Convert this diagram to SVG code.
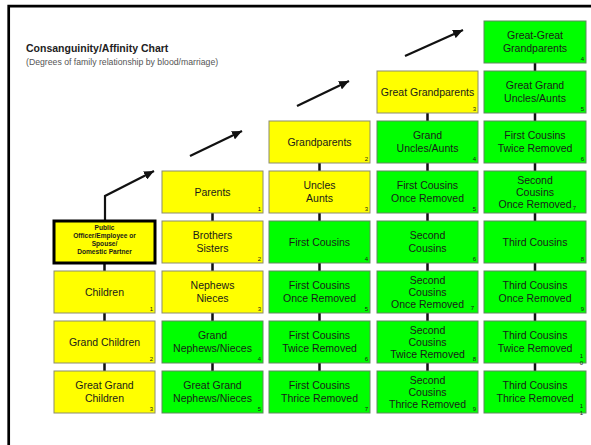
<svg xmlns="http://www.w3.org/2000/svg" width="591" height="445" viewBox="0 0 591 445">
<defs>
<marker id="ah" markerUnits="userSpaceOnUse" markerWidth="11" markerHeight="9" refX="10" refY="4.5" orient="auto">
<path d="M0,0 L10,4.5 L0,9 z" fill="#111"/>
</marker>
</defs>
<style>
.y{fill:#ffff00;stroke:#8c8c6e;stroke-width:1}
.g{fill:#00ff00;stroke:#5e8a5e;stroke-width:1}
.t{font-family:"Liberation Sans",Arial,sans-serif;font-size:10.5px;fill:#1a1a1a;text-anchor:middle}
.n{font-family:"Liberation Sans",Arial,sans-serif;font-size:6px;fill:#1a1a1a;text-anchor:end}
.c{stroke:#111;stroke-width:2.5;fill:none}
.a{stroke:#111;stroke-width:2.2;fill:none;marker-end:url(#ah)}
</style>
<rect width="591" height="445" fill="#fff"/>
<path d="M8.7,445 V6.2 H591" fill="none" stroke="#000" stroke-width="2.7"/>
<text x="26" y="52" font-family="'Liberation Sans',Arial,sans-serif" font-size="10.5" font-weight="bold" fill="#222">Consanguinity/Affinity Chart</text>
<text x="26" y="65" font-family="'Liberation Sans',Arial,sans-serif" font-size="8.7" fill="#555">(Degrees of family relationship by blood/marriage)</text>

<g id="connectors">
<path class="c" d="M104.5,263V271 M104.5,313V321 M104.5,363V371"/>
<path class="c" d="M212.5,213V221 M212.5,263V271 M212.5,313V321 M212.5,363V371"/>
<path class="c" d="M319.5,163V171 M319.5,213V221 M319.5,263V271 M319.5,313V321 M319.5,363V371"/>
<path class="c" d="M427.5,113V121 M427.5,163V171 M427.5,213V221 M427.5,263V271 M427.5,313V321 M427.5,363V371"/>
<path class="c" d="M535,63V71 M535,113V121 M535,163V171 M535,213V221 M535,263V271 M535,313V321 M535,363V371"/>
<polyline class="a" points="105,220 105,196 154,171"/>
<line class="a" x1="190" y1="156" x2="242" y2="131"/>
<line class="a" x1="297" y1="106" x2="349" y2="81"/>
<line class="a" x1="405" y1="56" x2="463" y2="30"/>
</g>

<!-- column 1 -->
<g id="self" transform="translate(54,221)">
<rect x="0" y="0" width="101" height="42" fill="#ffff00" stroke="#000" stroke-width="3"/>
<text class="t" font-size="6.6" font-weight="bold" style="font-size:6.6px;font-weight:bold"><tspan x="50.5" y="9.4">Public</tspan><tspan x="50.5" y="17.4">Officer/Employee or</tspan><tspan x="50.5" y="25.4">Spouse/</tspan><tspan x="50.5" y="33">Domestic Partner</tspan></text>
</g>
<g id="children" transform="translate(54,271)"><rect class="y" width="101" height="42"/><text class="t" x="50.5" y="24.7">Children</text><text class="n" x="99" y="40">1</text></g>
<g id="grandchildren" transform="translate(54,321)"><rect class="y" width="101" height="42"/><text class="t" x="50.5" y="24.7">Grand Children</text><text class="n" x="99" y="40">2</text></g>
<g id="greatgrandchildren" transform="translate(54,371)"><rect class="y" width="101" height="42"/><text class="t"><tspan x="50.5" y="18.2">Great Grand</tspan><tspan x="50.5" y="31.2">Children</tspan></text><text class="n" x="99" y="40">3</text></g>

<!-- column 2 -->
<g id="parents" transform="translate(162,171)"><rect class="y" width="101" height="42"/><text class="t" x="50.5" y="24.7">Parents</text><text class="n" x="99" y="40">1</text></g>
<g id="siblings" transform="translate(162,221)"><rect class="y" width="101" height="42"/><text class="t"><tspan x="50.5" y="18.2">Brothers</tspan><tspan x="50.5" y="31.2">Sisters</tspan></text><text class="n" x="99" y="40">2</text></g>
<g id="nephews" transform="translate(162,271)"><rect class="y" width="101" height="42"/><text class="t"><tspan x="50.5" y="18.2">Nephews</tspan><tspan x="50.5" y="31.2">Nieces</tspan></text><text class="n" x="99" y="40">3</text></g>
<g id="grandnephews" transform="translate(162,321)"><rect class="g" width="101" height="42"/><text class="t"><tspan x="50.5" y="18.2">Grand</tspan><tspan x="50.5" y="31.2">Nephews/Nieces</tspan></text><text class="n" x="99" y="40">4</text></g>
<g id="greatgrandnephews" transform="translate(162,371)"><rect class="g" width="101" height="42"/><text class="t"><tspan x="50.5" y="18.2">Great Grand</tspan><tspan x="50.5" y="31.2">Nephews/Nieces</tspan></text><text class="n" x="99" y="40">5</text></g>

<!-- column 3 -->
<g id="grandparents" transform="translate(269,121)"><rect class="y" width="101" height="42"/><text class="t" x="50.5" y="24.7">Grandparents</text><text class="n" x="99" y="40">2</text></g>
<g id="uncles" transform="translate(269,171)"><rect class="y" width="101" height="42"/><text class="t"><tspan x="50.5" y="18.2">Uncles</tspan><tspan x="50.5" y="31.2">Aunts</tspan></text><text class="n" x="99" y="40">3</text></g>
<g id="firstcousins" transform="translate(269,221)"><rect class="g" width="101" height="42"/><text class="t" x="50.5" y="24.7">First Cousins</text><text class="n" x="99" y="40">4</text></g>
<g id="fc1r-a" transform="translate(269,271)"><rect class="g" width="101" height="42"/><text class="t"><tspan x="50.5" y="18.2">First Cousins</tspan><tspan x="50.5" y="31.2">Once Removed</tspan></text><text class="n" x="99" y="40">5</text></g>
<g id="fc2r-a" transform="translate(269,321)"><rect class="g" width="101" height="42"/><text class="t"><tspan x="50.5" y="18.2">First Cousins</tspan><tspan x="50.5" y="31.2">Twice Removed</tspan></text><text class="n" x="99" y="40">6</text></g>
<g id="fc3r" transform="translate(269,371)"><rect class="g" width="101" height="42"/><text class="t"><tspan x="50.5" y="18.2">First Cousins</tspan><tspan x="50.5" y="31.2">Thrice Removed</tspan></text><text class="n" x="99" y="40">7</text></g>

<!-- column 4 -->
<g id="greatgrandparents" transform="translate(377,71)"><rect class="y" width="101" height="42"/><text class="t" x="50.5" y="24.7">Great Grandparents</text><text class="n" x="99" y="40">3</text></g>
<g id="granduncles" transform="translate(377,121)"><rect class="g" width="101" height="42"/><text class="t"><tspan x="50.5" y="18.2">Grand</tspan><tspan x="50.5" y="31.2">Uncles/Aunts</tspan></text><text class="n" x="99" y="40">4</text></g>
<g id="fc1r-b" transform="translate(377,171)"><rect class="g" width="101" height="42"/><text class="t"><tspan x="50.5" y="18.2">First Cousins</tspan><tspan x="50.5" y="31.2">Once Removed</tspan></text><text class="n" x="99" y="40">5</text></g>
<g id="secondcousins" transform="translate(377,221)"><rect class="g" width="101" height="42"/><text class="t"><tspan x="50.5" y="18.2">Second</tspan><tspan x="50.5" y="31.2">Cousins</tspan></text><text class="n" x="99" y="40">6</text></g>
<g id="sc1r-a" transform="translate(377,271)"><rect class="g" width="101" height="42"/><text class="t"><tspan x="50.5" y="12.7">Second</tspan><tspan x="50.5" y="24.7">Cousins</tspan><tspan x="50.5" y="36.7">Once Removed</tspan></text><text class="n" x="97" y="38.5">7</text></g>
<g id="sc2r" transform="translate(377,321)"><rect class="g" width="101" height="42"/><text class="t"><tspan x="50.5" y="12.7">Second</tspan><tspan x="50.5" y="24.7">Cousins</tspan><tspan x="50.5" y="36.7">Twice Removed</tspan></text><text class="n" x="99" y="40">8</text></g>
<g id="sc3r" transform="translate(377,371)"><rect class="g" width="101" height="42"/><text class="t"><tspan x="50.5" y="12.7">Second</tspan><tspan x="50.5" y="24.7">Cousins</tspan><tspan x="50.5" y="36.7">Thrice Removed</tspan></text><text class="n" x="99" y="40">9</text></g>

<!-- column 5 -->
<g id="greatgreatgrandparents" transform="translate(484,21)"><rect class="g" width="102" height="42"/><text class="t"><tspan x="51" y="18.2">Great-Great</tspan><tspan x="51" y="31.2">Grandparents</tspan></text><text class="n" x="100" y="40">4</text></g>
<g id="greatgranduncles" transform="translate(484,71)"><rect class="g" width="102" height="42"/><text class="t"><tspan x="51" y="18.2">Great Grand</tspan><tspan x="51" y="31.2">Uncles/Aunts</tspan></text><text class="n" x="100" y="40">5</text></g>
<g id="fc2r-b" transform="translate(484,121)"><rect class="g" width="102" height="42"/><text class="t"><tspan x="51" y="18.2">First Cousins</tspan><tspan x="51" y="31.2">Twice Removed</tspan></text><text class="n" x="100" y="40">6</text></g>
<g id="sc1r-b" transform="translate(484,171)"><rect class="g" width="102" height="42"/><text class="t"><tspan x="51" y="12.7">Second</tspan><tspan x="51" y="24.7">Cousins</tspan><tspan x="51" y="36.7">Once Removed</tspan></text><text class="n" x="92" y="38.5">7</text></g>
<g id="thirdcousins" transform="translate(484,221)"><rect class="g" width="102" height="42"/><text class="t" x="51" y="24.7">Third Cousins</text><text class="n" x="100" y="40">8</text></g>
<g id="tc1r" transform="translate(484,271)"><rect class="g" width="102" height="42"/><text class="t"><tspan x="51" y="18.2">Third Cousins</tspan><tspan x="51" y="31.2">Once Removed</tspan></text><text class="n" x="100" y="40">9</text></g>
<g id="tc2r" transform="translate(484,321)"><rect class="g" width="102" height="42"/><text class="t"><tspan x="51" y="18.2">Third Cousins</tspan><tspan x="51" y="31.2">Twice Removed</tspan></text><text class="n"><tspan x="99" y="37">1</tspan><tspan x="99" y="44">0</tspan></text></g>
<g id="tc3r" transform="translate(484,371)"><rect class="g" width="102" height="42"/><text class="t"><tspan x="51" y="18.2">Third Cousins</tspan><tspan x="51" y="31.2">Thrice Removed</tspan></text><text class="n"><tspan x="99" y="37">1</tspan><tspan x="99" y="44">1</tspan></text></g>
</svg>
